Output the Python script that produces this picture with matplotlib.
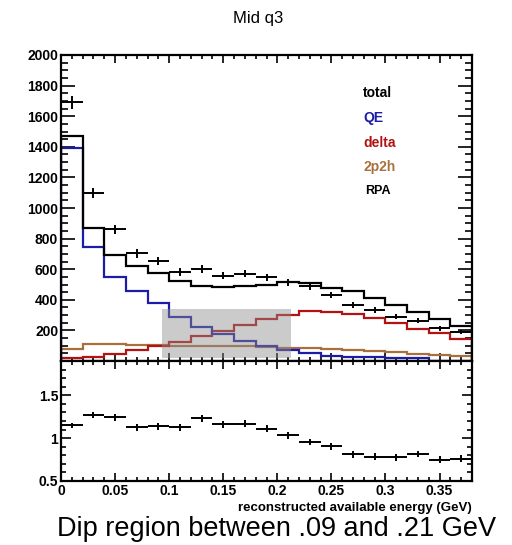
import matplotlib
matplotlib.use('Agg')
import matplotlib.pyplot as plt
from matplotlib.ticker import MultipleLocator, FixedLocator, FixedFormatter
import numpy as np

# reconstructed available energy bins (GeV)
bin_edges = [0.00, 0.02, 0.04, 0.06, 0.08, 0.10, 0.12, 0.14, 0.16, 0.18,
             0.20, 0.22, 0.24, 0.26, 0.28, 0.30, 0.32, 0.34, 0.36, 0.38]

# model histograms (events per bin)
total = [1472, 872, 692, 624, 574, 522, 490, 484, 492, 497,
         518, 512, 480, 456, 415, 364, 319, 274, 229]
qe = [1395, 747, 551, 457, 380, 290, 219, 174, 133, 95,
      70, 50, 35, 28, 23, 20, 18, 0, 0]
delta = [22, 28, 46, 72, 100, 125, 166, 199, 236, 272,
         303, 325, 320, 305, 279, 246, 210, 181, 144]
twop2h = [80, 108, 112, 107, 103, 100, 99, 97, 95, 92,
          88, 84, 79, 73, 66, 58, 49, 41, 34]

# data points
data = [1690, 1100, 861, 703, 654, 581, 603, 557, 571, 546,
        516, 488, 432, 368, 333, 290, 262, 213, 190]
data_err = [40, 33, 29, 27, 26, 24, 25, 24, 24, 23,
            23, 22, 21, 19, 18, 17, 16, 15, 14]

# data / total
ratio = [1.15, 1.27, 1.245, 1.125, 1.14, 1.125, 1.23, 1.16, 1.17, 1.11,
         1.035, 0.955, 0.907, 0.81, 0.785, 0.775, 0.815, 0.75, 0.76]
ratio_err = [0.03, 0.04, 0.04, 0.04, 0.04, 0.04, 0.04, 0.04, 0.04, 0.04,
             0.04, 0.04, 0.04, 0.04, 0.04, 0.04, 0.04, 0.04, 0.04]

# shaded dip region
dip_x = [0.093, 0.213]
dip_y = [18, 338]

legend_labels = ['total', 'QE', 'delta', '2p2h', 'RPA']

colBlack = 'black'
colQE = '#1c1ca6'
colDelta = '#b31212'
colMEC = '#a8703c'

plt.rcParams['font.family'] = ['Liberation Sans', 'DejaVu Sans']

fig = plt.figure(figsize=(5.12, 5.45), dpi=100)
W, H = 512.0, 545.0
ax1 = fig.add_axes([61 / W, 1 - 361 / H, 411 / W, 306 / H])
ax2 = fig.add_axes([61 / W, 1 - 481 / H, 411 / W, 120 / H])

edges = np.array(bin_edges)
centers = 0.5 * (edges[:-1] + edges[1:])
halfw = 0.5 * (edges[1:] - edges[:-1])

lw = 1.6
ax1.stairs(twop2h, edges, color=colMEC, linewidth=lw, zorder=2)
ax1.stairs(delta, edges, color=colDelta, linewidth=lw, zorder=2)
ax1.stairs(qe, edges, color=colQE, linewidth=lw, zorder=3)
ax1.stairs(total, edges, color=colBlack, linewidth=lw, zorder=3)
ax1.errorbar(centers, data, xerr=halfw, yerr=data_err, fmt='none',
             ecolor='black', elinewidth=1.4, capsize=0, zorder=4)

ax1.fill_between(dip_x, dip_y[0], dip_y[1], color='#8c8c8c', alpha=0.45,
                 linewidth=0, zorder=5)

ax1.set_xlim(0, 0.38)
ax1.set_ylim(0, 2000)

ytk = list(range(0, 2001, 200))
ax1.yaxis.set_major_locator(FixedLocator(ytk))
ax1.yaxis.set_major_formatter(FixedFormatter([''] + [str(v) for v in ytk[1:]]))
ax1.yaxis.set_minor_locator(MultipleLocator(50))
ax1.xaxis.set_major_locator(MultipleLocator(0.05))
ax1.xaxis.set_minor_locator(MultipleLocator(0.01))
ax1.tick_params(axis='x', which='both', labelbottom=False)

ax2.errorbar(centers, ratio, xerr=halfw, yerr=ratio_err, fmt='none',
             ecolor='black', elinewidth=1.4, capsize=0, zorder=4)
ax2.set_xlim(0, 0.38)
ax2.set_ylim(0.5, 1.9)
ax2.yaxis.set_major_locator(FixedLocator([0.5, 1.0, 1.5]))
ax2.yaxis.set_major_formatter(FixedFormatter(['0.5', '1', '1.5']))
ax2.yaxis.set_minor_locator(MultipleLocator(0.1))
ax2.xaxis.set_major_locator(FixedLocator([0, 0.05, 0.1, 0.15, 0.2, 0.25, 0.3, 0.35]))
ax2.xaxis.set_major_formatter(FixedFormatter(['0', '0.05', '0.1', '0.15', '0.2', '0.25', '0.3', '0.35']))
ax2.xaxis.set_minor_locator(MultipleLocator(0.01))

for ax in [ax1, ax2]:
    for sp in ax.spines.values():
        sp.set_linewidth(1.6)
        sp.set_zorder(10)
    ax.tick_params(which='both', direction='in', top=True, right=True,
                   width=1.2, labelsize=10, pad=2)
    for lab in ax.get_xticklabels() + ax.get_yticklabels():
        lab.set_fontweight('bold')

ax1.tick_params(axis='y', which='major', length=10)
ax1.tick_params(axis='y', which='minor', length=5)
ax1.tick_params(axis='x', which='major', length=6)
ax1.tick_params(axis='x', which='minor', length=3)
ax2.tick_params(axis='y', which='major', length=7)
ax2.tick_params(axis='y', which='minor', length=3.5)
ax2.tick_params(axis='x', which='major', length=6)
ax2.tick_params(axis='x', which='minor', length=3)

ax2.set_xlabel('reconstructed available energy (GeV)', fontsize=9.5,
               fontweight='bold', loc='right', labelpad=3)

# legend as coloured text
legCols = [colBlack, colQE, colDelta, colMEC, colBlack]
legY = [93, 118, 143, 167, 191]
legSize = [10, 10, 10, 10, 9]
legX = [363, 363, 363, 363, 365]
for i in range(len(legend_labels)):
    fig.text(legX[i] / W, 1 - legY[i] / H, legend_labels[i], color=legCols[i],
             fontsize=legSize[i], fontweight='bold', ha='left', va='center')

fig.text(258 / W, 1 - 18 / H, 'Mid q3', fontsize=12, ha='center', va='center')
fig.text(277 / W, 1 - 529 / H, 'Dip region between .09 and .21 GeV',
         fontsize=19.5, ha='center', va='center')

plt.savefig('out.png', dpi=100)
